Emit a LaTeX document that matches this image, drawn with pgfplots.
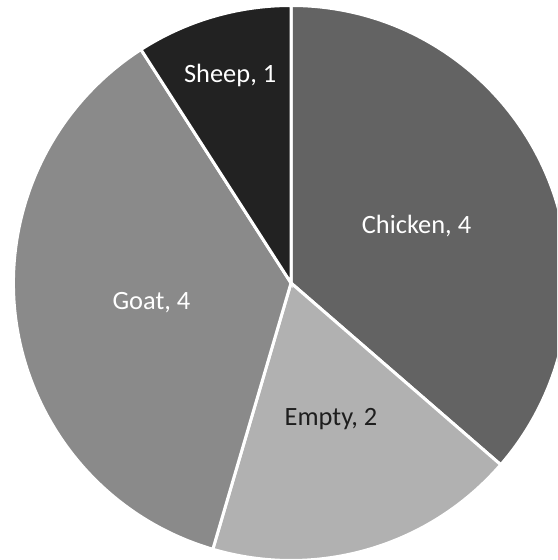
\documentclass[border=0pt]{standalone}
\usepackage{fontspec}
\setmainfont{Carlito}
\usepackage{pgfplots}
\usepackage{pgfplotstable}
\pgfplotsset{compat=1.18}

\definecolor{chickenfill}{HTML}{636363}
\definecolor{emptyfill}{HTML}{B1B1B1}
\definecolor{goatfill}{HTML}{8A8A8A}
\definecolor{sheepfill}{HTML}{222222}
\definecolor{darklabel}{HTML}{1E1E1E}

\newcommand\labelfont{\fontsize{26.5}{31}\selectfont}

% slices clockwise from 12 o'clock; dist = label distance from the centre
\pgfplotstableread{
name    value  fill        text       dist
Chicken 4      chickenfill white      138
Empty   2      emptyfill   darklabel  142
Goat    4      goatfill    white      141
Sheep   1      sheepfill   white      216
}\piedata

\begin{document}
\begin{tikzpicture}
% total of all slices
\xdef\total{0}
\pgfplotstableforeachcolumnelement{value}\of\piedata\as\v{%
  \pgfmathparse{\total+\v}\xdef\total{\pgfmathresult}}
\begin{axis}[name=ax, at={(0,0)}, anchor=south west,
  scale only axis, width=557bp, height=560bp,
  xmin=0, xmax=557, ymin=0, ymax=560,
  hide axis, clip=true]
\xdef\startangle{90}
\pgfplotsforeachungrouped \i in {0,...,3}{%
  \pgfplotstablegetelem{\i}{value}\of\piedata \let\val\pgfplotsretval
  \pgfplotstablegetelem{\i}{fill}\of\piedata \let\fc\pgfplotsretval
  \pgfplotstablegetelem{\i}{text}\of\piedata \let\tc\pgfplotsretval
  \pgfplotstablegetelem{\i}{dist}\of\piedata \let\ld\pgfplotsretval
  \pgfplotstablegetelem{\i}{name}\of\piedata \let\nm\pgfplotsretval
  \pgfmathsetmacro\endangle{\startangle-360*\val/\total}%
  \pgfmathsetmacro\midangle{(\startangle+\endangle)/2}%
  \edef\cmd{%
    \noexpand\filldraw[fill=\fc, draw=white, line width=3bp]
      (axis cs:291,277) -- ++(\startangle:277.5bp)
      arc[start angle=\startangle, end angle=\endangle, radius=277.5bp] -- cycle;
    \noexpand\path (axis cs:291,277) ++(\midangle:\ld bp)
      node[text=\tc, font=\noexpand\labelfont] {\nm, \val};
  }%
  \cmd
  \xdef\startangle{\endangle}%
}
\end{axis}
\pgfresetboundingbox
\path (ax.south west) rectangle (ax.north east);
\end{tikzpicture}
\end{document}
